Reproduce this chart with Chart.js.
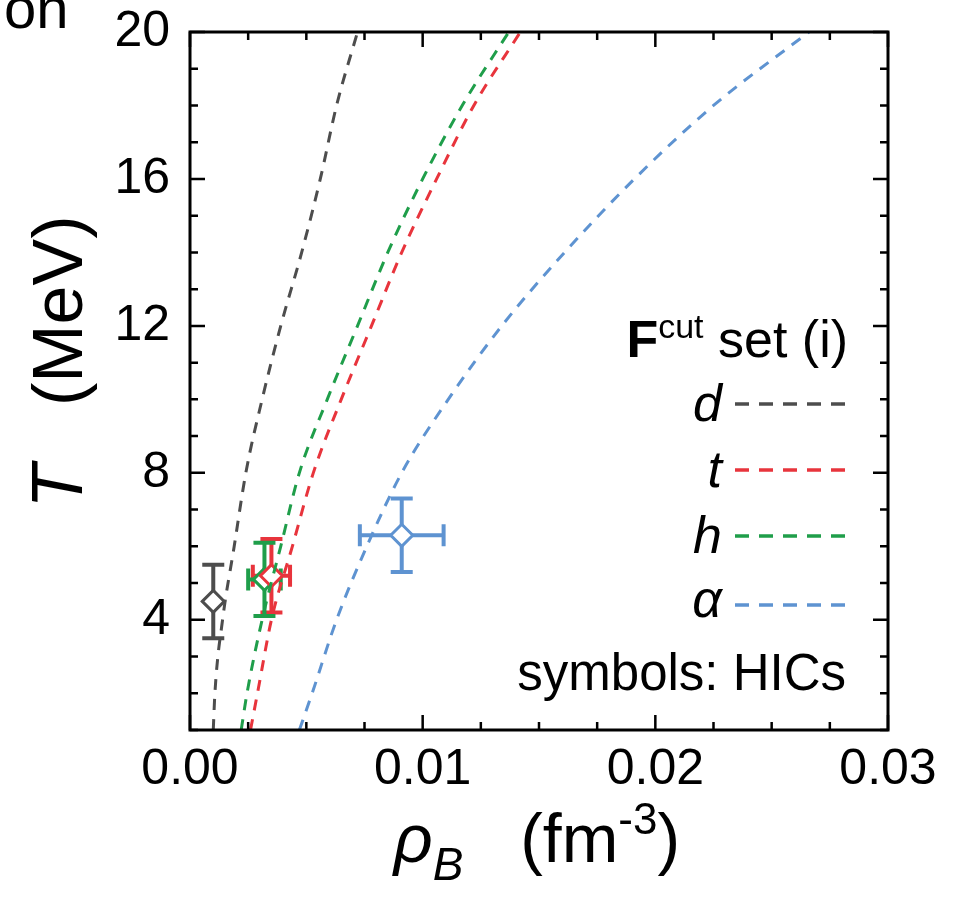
<!DOCTYPE html>
<html lang="en">
<head>
<meta charset="UTF-8" />
<title>T vs rho_B</title>
<script src="https://cdn.jsdelivr.net/npm/chart.js"></script>
<style>
  body { margin: 0; background: #fff; }
  #wrap { width: 965px; height: 900px; position: relative; }
</style>
</head>
<body>
<div id="wrap"><canvas id="chart" width="965" height="900"></canvas></div>
<script>
// temperatures (MeV) where the dashed curves were read
const tempGrid = [1, 2, 4, 6, 8, 10, 12, 14, 16, 18, 20];
// rho_B (fm^-3) of each curve at those temperatures
const rhoD     = [0.0010, 0.00107, 0.0014, 0.0019, 0.0024, 0.0031, 0.0039, 0.0048, 0.0056, 0.0063, 0.0072];
const rhoT     = [0.0026, 0.0029, 0.0035, 0.0044, 0.0053, 0.0065, 0.0078, 0.0091, 0.0106, 0.0122, 0.0142];
const rhoH     = [0.0022, 0.00245, 0.0031, 0.0039, 0.0047, 0.0059, 0.0072, 0.0085, 0.0100, 0.0117, 0.0137];
const rhoAlpha = [0.0047, 0.00525, 0.0063, 0.0076, 0.0091, 0.0111, 0.0134, 0.0161, 0.0191, 0.0225, 0.0266];

// HIC symbols (d, t, h, alpha)
const hicRho    = [0.0010, 0.0035, 0.0032, 0.0091];
const hicRhoErr = [0.0, 0.0008, 0.0007, 0.0018];
const hicT      = [4.5, 5.2, 5.1, 6.3];
const hicTErr   = [1.0, 1.0, 1.0, 1.0];

const xTicks = [0, 0.01, 0.02, 0.03];
const xTickLabels = ['0.00', '0.01', '0.02', '0.03'];
const yTicks = [4, 8, 12, 16, 20];

const colD = '#4d4d4d', colT = '#e8343c', colH = '#1f9e4a', colA = '#5e93d1';
const hicColors = [colD, colT, colH, colA];
const FONT = "'Liberation Sans', Arial, sans-serif";

function curve(rhos) {
  return rhos.map((r, i) => ({ x: r, y: tempGrid[i] }));
}
function curveSet(label, rhos, color) {
  return {
    label: label,
    data: curve(rhos),
    borderColor: color,
    borderWidth: 3,
    borderDash: [11, 9],
    pointRadius: 0,
    showLine: true,
    fill: false,
    cubicInterpolationMode: 'monotone'
  };
}
function hicSet(i) {
  return {
    label: 'hic' + i,
    data: [{ x: hicRho[i], y: hicT[i] }],
    showLine: false,
    pointStyle: 'rectRot',
    pointRadius: 11,
    pointBorderWidth: 3,
    pointBorderColor: hicColors[i],
    pointBackgroundColor: '#fff'
  };
}

// error bars, drawn under the diamonds
const errorBars = {
  id: 'errorBars',
  beforeDatasetsDraw(chart) {
    const { ctx, scales: { x, y } } = chart;
    ctx.save();
    ctx.lineWidth = 4;
    [0, 1, 2, 3].forEach(i => {
      ctx.strokeStyle = hicColors[i];
      const cx = x.getPixelForValue(hicRho[i]);
      const cy = y.getPixelForValue(hicT[i]);
      const yt = y.getPixelForValue(hicT[i] + hicTErr[i]);
      const yb = y.getPixelForValue(hicT[i] - hicTErr[i]);
      const cap = 11;
      ctx.beginPath();
      ctx.moveTo(cx, yt); ctx.lineTo(cx, yb);
      ctx.moveTo(cx - cap, yt); ctx.lineTo(cx + cap, yt);
      ctx.moveTo(cx - cap, yb); ctx.lineTo(cx + cap, yb);
      if (hicRhoErr[i] > 0) {
        const xl = x.getPixelForValue(hicRho[i] - hicRhoErr[i]);
        const xr = x.getPixelForValue(hicRho[i] + hicRhoErr[i]);
        ctx.moveTo(xl, cy); ctx.lineTo(xr, cy);
        ctx.moveTo(xl, cy - cap); ctx.lineTo(xl, cy + cap);
        ctx.moveTo(xr, cy - cap); ctx.lineTo(xr, cy + cap);
      }
      ctx.stroke();
    });
    ctx.restore();
  }
};

// draw a row of text pieces with different fonts / offsets
function drawPieces(ctx, pieces, x, y, align) {
  let total = 0;
  pieces.forEach(p => { ctx.font = p.font; p.w = ctx.measureText(p.t).width; total += p.w; });
  let cx = align === 'right' ? x - total : (align === 'center' ? x - total / 2 : x);
  ctx.textAlign = 'left';
  pieces.forEach(p => {
    ctx.font = p.font;
    ctx.fillText(p.t, cx, y + (p.dy || 0));
    cx += p.w;
  });
}

const frame = {
  id: 'frame',
  afterDraw(chart) {
    const { ctx, chartArea: a, scales: { x, y } } = chart;
    ctx.save();
    ctx.strokeStyle = '#000';
    ctx.lineWidth = 3;
    ctx.strokeRect(a.left, a.top, a.right - a.left, a.bottom - a.top);
    ctx.lineWidth = 2.5;
    ctx.beginPath();
    for (let k = 0; k <= 12; k++) {
      const px = x.getPixelForValue(k * 0.0025);
      const len = k % 4 === 0 ? 15 : 8;
      ctx.moveTo(px, a.bottom); ctx.lineTo(px, a.bottom - len);
      ctx.moveTo(px, a.top); ctx.lineTo(px, a.top + len);
    }
    for (let v = 1; v <= 20; v++) {
      const py = y.getPixelForValue(v);
      const len = v % 4 === 0 ? 15 : 8;
      ctx.moveTo(a.left, py); ctx.lineTo(a.left + len, py);
      ctx.moveTo(a.right, py); ctx.lineTo(a.right - len, py);
    }
    ctx.stroke();

    ctx.fillStyle = '#000';
    ctx.textBaseline = 'alphabetic';

    // cut-off text from the neighbouring panel
    ctx.font = '58px ' + FONT;
    ctx.textAlign = 'left';
    ctx.fillText('on', 4, 28);

    // y title
    ctx.save();
    ctx.translate(82, 362);
    ctx.rotate(-Math.PI / 2);
    drawPieces(ctx, [
      { t: 'T', font: 'italic 72px ' + FONT },
      { t: '   (MeV)', font: '70px ' + FONT }
    ], 0, 0, 'center');
    ctx.restore();

    // x title
    drawPieces(ctx, [
      { t: 'ρ', font: 'italic 68px ' + FONT },
      { t: 'B', font: 'italic 46px ' + FONT, dy: 18 },
      { t: '   (fm', font: '68px ' + FONT },
      { t: '-3', font: '44px ' + FONT, dy: -28 },
      { t: ')', font: '68px ' + FONT }
    ], 537, 862, 'center');

    // legend
    drawPieces(ctx, [
      { t: 'F', font: 'bold 52px ' + FONT },
      { t: 'cut', font: '34px ' + FONT, dy: -19 },
      { t: ' set (i)', font: '52px ' + FONT }
    ], 848, 357, 'right');
    const legendItems = [
      { t: 'd', c: colD, ly: 404, by: 421 },
      { t: 't', c: colT, ly: 470, by: 487 },
      { t: 'h', c: colH, ly: 536, by: 553 },
      { t: 'α', c: colA, ly: 605, by: 617 }
    ];
    legendItems.forEach(it => {
      ctx.font = 'italic 52px ' + FONT;
      ctx.textAlign = 'right';
      ctx.fillStyle = '#000';
      ctx.fillText(it.t, 722, it.by);
      ctx.strokeStyle = it.c;
      ctx.lineWidth = 3.5;
      ctx.setLineDash([14, 10]);
      ctx.beginPath();
      ctx.moveTo(735, it.ly); ctx.lineTo(845, it.ly);
      ctx.stroke();
      ctx.setLineDash([]);
    });
    ctx.textAlign = 'right';
    ctx.font = '51px ' + FONT;
    ctx.fillText('symbols: HICs', 846, 690);
    ctx.restore();
  }
};

new Chart(document.getElementById('chart'), {
  type: 'scatter',
  data: {
    datasets: [
      curveSet('d', rhoD, colD),
      curveSet('t', rhoT, colT),
      curveSet('h', rhoH, colH),
      curveSet('alpha', rhoAlpha, colA),
      hicSet(0), hicSet(1), hicSet(2), hicSet(3)
    ]
  },
  options: {
    responsive: false,
    animation: false,
    layout: { padding: { left: 0, top: 32, right: 77, bottom: 0 } },
    plugins: { legend: { display: false }, tooltip: { enabled: false } },
    scales: {
      x: {
        type: 'linear', min: 0, max: 0.03,
        afterBuildTicks: s => { s.ticks = xTicks.map(v => ({ value: v })); },
        afterFit: s => { s.height = 170; s.paddingLeft = 0; s.paddingRight = 0; },
        grid: { display: false, drawTicks: false },
        border: { display: false },
        ticks: {
          padding: 10, color: '#000', maxRotation: 0,
          font: { family: FONT, size: 50 },
          callback: (v, i) => xTickLabels[i]
        }
      },
      y: {
        type: 'linear', min: 1, max: 20,
        afterBuildTicks: s => { s.ticks = yTicks.map(v => ({ value: v })); },
        afterFit: s => { s.width = 190; s.paddingTop = 0; s.paddingBottom = 0; },
        grid: { display: false, drawTicks: false },
        border: { display: false },
        ticks: {
          padding: 20, color: '#000',
          font: { family: FONT, size: 50 }
        }
      }
    }
  },
  plugins: [errorBars, frame]
});
</script>
</body>
</html>
